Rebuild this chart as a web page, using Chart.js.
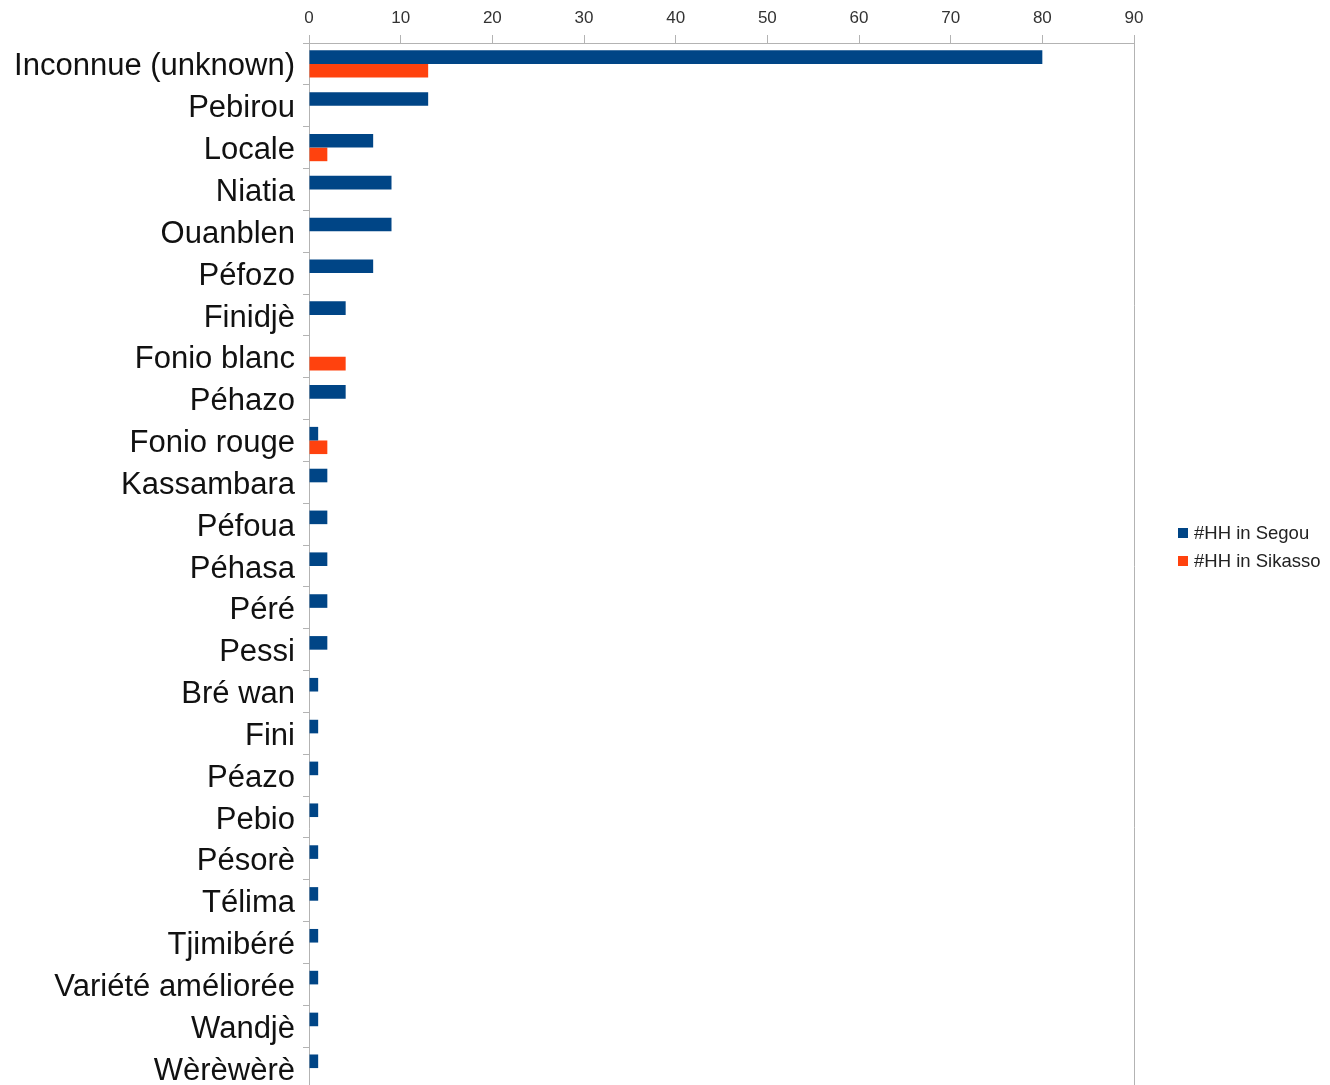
<!DOCTYPE html>
<html>
<head>
<meta charset="utf-8">
<title>Variétés de fonio</title>
<script src="https://cdn.jsdelivr.net/npm/chart.js@4.4.1/dist/chart.umd.min.js"></script>
<style>
  html, body { margin: 0; padding: 0; overflow: hidden; background: #fff; }
  #wrap { position: relative; width: 1330px; height: 1090px; }
</style>
</head>
<body>
<div id="wrap"><canvas id="canvas"></canvas></div>
<script>
// varieties, top to bottom
var varieties = [
    "Inconnue (unknown)", "Pebirou", "Locale", "Niatia", "Ouanblen", "Péfozo",
    "Finidjè", "Fonio blanc", "Péhazo", "Fonio rouge", "Kassambara", "Péfoua",
    "Péhasa", "Péré", "Pessi", "Bré wan", "Fini", "Péazo", "Pebio", "Pésorè",
    "Télima", "Tjimibéré", "Variété améliorée", "Wandjè", "Wèrèwèrè"
];

// number of households per variety
var hhSegou = [80, 13, 7, 9, 9, 7, 4, null, 4, 1, 2, 2, 2, 2, 2, 1, 1, 1, 1, 1, 1, 1, 1, 1, 1];
var hhSikasso = [13, null, 2, null, null, null, null, 4, null, 2, null, null, null, null, null,
    null, null, null, null, null, null, null, null, null, null];

var xTicks = [0, 10, 20, 30, 40, 50, 60, 70, 80, 90];

var lineGray = '#b3b3b3';
var fontFamily = '"Liberation Sans", Arial, sans-serif';

// legend drawn to the right of the plot, boxes + labels
var sideLegend = {
    id: 'sideLegend',
    afterDraw: function (chart) {
        var ctx = chart.ctx;
        var x = 1178, y = 533;
        ctx.save();
        ctx.font = '18.5px ' + fontFamily;
        ctx.textBaseline = 'middle';
        chart.data.datasets.forEach(function (ds, i) {
            var cy = y + i * 28;
            ctx.fillStyle = ds.backgroundColor;
            ctx.fillRect(x, cy - 5, 10, 10);
            ctx.fillStyle = '#222';
            ctx.fillText(ds.label, x + 16, cy + 1);
        });
        ctx.restore();
    }
};

var ctx = document.getElementById('canvas').getContext('2d');
var chart = new Chart(ctx, {
    type: 'bar',
    data: {
        labels: varieties,
        datasets: [
            {
                label: '#HH in Segou',
                data: hhSegou,
                backgroundColor: '#004586',
                categoryPercentage: 0.65,
                barPercentage: 1.0
            },
            {
                label: '#HH in Sikasso',
                data: hhSikasso,
                backgroundColor: '#ff420e',
                categoryPercentage: 0.65,
                barPercentage: 1.0
            }
        ]
    },
    options: {
        indexAxis: 'y',
        responsive: true,
        maintainAspectRatio: false,
        animation: false,
        layout: {
            padding: { left: 0, right: 196, top: 0, bottom: 1 }
        },
        plugins: {
            legend: { display: false },
            tooltip: { enabled: false }
        },
        scales: {
            x: {
                position: 'top',
                min: 0,
                max: 90,
                afterBuildTicks: function (scale) {
                    scale.ticks = xTicks.map(function (v) { return { value: v }; });
                },
                afterFit: function (scale) {
                    scale.height = 43;
                },
                grid: {
                    drawOnChartArea: true,
                    color: function (c) {
                        return c.tick && c.tick.value === 90 ? lineGray : 'rgba(0,0,0,0)';
                    },
                    tickColor: lineGray,
                    tickLength: 8,
                    lineWidth: 1
                },
                border: { color: lineGray, width: 1 },
                ticks: {
                    color: '#333',
                    padding: 6,
                    font: { family: fontFamily, size: 17 }
                }
            },
            y: {
                afterFit: function (scale) {
                    scale.width = 309;
                    // labels may hang past the plot edges
                    scale.paddingTop = 0;
                    scale.paddingBottom = 0;
                },
                grid: {
                    offset: true,
                    drawOnChartArea: false,
                    tickColor: lineGray,
                    tickLength: 6
                },
                border: { color: lineGray, width: 1 },
                ticks: {
                    color: '#111',
                    padding: 8,
                    labelOffset: 3,
                    autoSkip: false,
                    font: { family: fontFamily, size: 31 }
                }
            }
        }
    },
    plugins: [sideLegend]
});
</script>
</body>
</html>
